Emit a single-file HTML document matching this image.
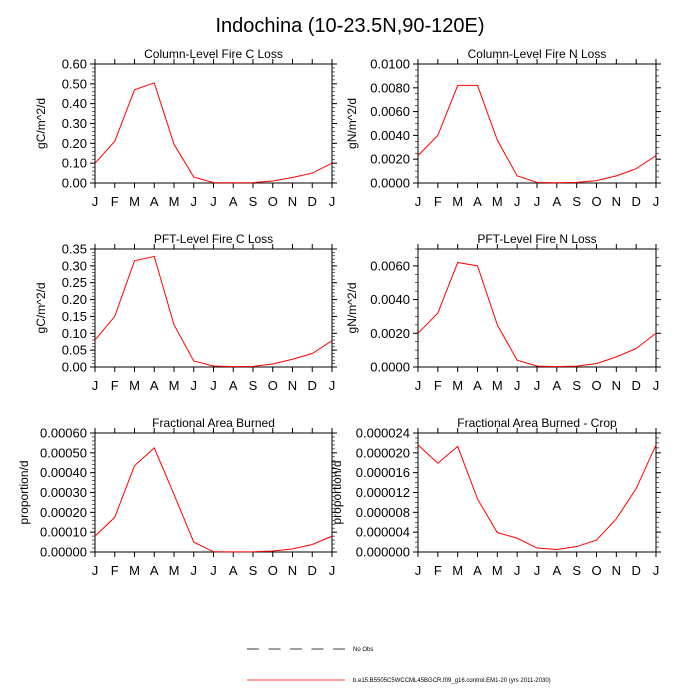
<!DOCTYPE html>
<html><head><meta charset="utf-8"><style>
html,body{margin:0;padding:0;background:#fff;}
svg{display:block;font-family:"Liberation Sans",sans-serif;}
</style></head><body>
<svg id="chart" width="700" height="700" viewBox="0 0 700 700">
<text x="350" y="32" text-anchor="middle" font-size="20">Indochina (10-23.5N,90-120E)</text>
<g id="panels"></g>
<g>
<line x1="247" y1="649" x2="345" y2="649" stroke="#000" stroke-width="0.8" stroke-dasharray="12,9.5"/>
<text x="353" y="651" font-size="6">No Obs</text>
<line x1="247" y1="680" x2="345" y2="680" stroke="#f00" stroke-width="0.8"/>
<text x="353" y="682" font-size="6">b.e15.B5505C5WCCML45BGCR.f09_g16.control.EM1-20 (yrs 2011-2030)</text>
</g>
</svg>
<script>
const months = ["J","F","M","A","M","J","J","A","S","O","N","D","J"];
const colCLoss = [0.10,0.21,0.47,0.505,0.195,0.03,0.002,0.001,0.002,0.01,0.028,0.05,0.10];
const colNLoss = [0.0023,0.0040,0.0082,0.0082,0.0036,0.0006,0.00005,0.00002,0.00005,0.0002,0.0006,0.0012,0.0023];
const pftCLoss = [0.08,0.15,0.315,0.328,0.125,0.018,0.003,0.001,0.002,0.009,0.023,0.04,0.078];
const pftNLoss = [0.0020,0.0032,0.0062,0.0060,0.0025,0.0004,0.00005,0.00002,0.00005,0.0002,0.0006,0.0011,0.0020];
const fracBurn = [0.00008,0.000175,0.000435,0.000525,0.00029,0.00005,0.000001,0.0000005,0.000001,0.000005,0.000015,0.000038,0.00008];
const fracCrop = [0.0000216,0.0000179,0.0000213,0.0000107,0.0000039,0.0000028,0.0000008,0.0000005,0.0000011,0.0000024,0.0000067,0.0000128,0.0000216];
const ticksCL = ["0.00","0.10","0.20","0.30","0.40","0.50","0.60"];
const ticksNL = ["0.0000","0.0020","0.0040","0.0060","0.0080","0.0100"];
const ticksPC = ["0.00","0.05","0.10","0.15","0.20","0.25","0.30","0.35"];
const ticksPN = ["0.0000","0.0020","0.0040","0.0060"];
const ticksFB = ["0.00000","0.00010","0.00020","0.00030","0.00040","0.00050","0.00060"];
const ticksFC = ["0.000000","0.000004","0.000008","0.000012","0.000016","0.000020","0.000024"];

const NS="http://www.w3.org/2000/svg";
const root=document.getElementById('panels');
function mk(tag,attrs,parent){const e=document.createElementNS(NS,tag);for(const k in attrs)e.setAttribute(k,attrs[k]);parent.appendChild(e);return e;}

const panels=[
 {name:"column-fire-c-loss",title:"Column-Level Fire C Loss",yl:"gC/m^2/d",data:colCLoss,ticks:ticksCL,ymax:0.6,minor:5,x0:95,x1:332,y0:64,y1:183,ylx:45},
 {name:"column-fire-n-loss",title:"Column-Level Fire N Loss",yl:"gN/m^2/d",data:colNLoss,ticks:ticksNL,ymax:0.01,minor:4,x0:418,x1:656,y0:64,y1:183,ylx:356},
 {name:"pft-fire-c-loss",title:"PFT-Level Fire C Loss",yl:"gC/m^2/d",data:pftCLoss,ticks:ticksPC,ymax:0.35,minor:5,x0:95,x1:332,y0:249,y1:367,ylx:45},
 {name:"pft-fire-n-loss",title:"PFT-Level Fire N Loss",yl:"gN/m^2/d",data:pftNLoss,ticks:ticksPN,ymax:0.007,minor:4,x0:418,x1:656,y0:249,y1:367,ylx:356},
 {name:"fractional-area-burned",title:"Fractional Area Burned",yl:"proportion/d",data:fracBurn,ticks:ticksFB,ymax:0.0006,minor:5,x0:95,x1:332,y0:433,y1:552,ylx:28},
 {name:"fractional-area-burned-crop",title:"Fractional Area Burned - Crop",yl:"proportion/d",data:fracCrop,ticks:ticksFC,ymax:0.000024,minor:4,x0:418,x1:656,y0:433,y1:552,ylx:341}
];

panels.forEach(p=>{
 const g=mk('g',{},root);
 
 
 const X=i=>p.x0+(p.x1-p.x0)*i/(months.length-1);
 const Y=v=>p.y1-(p.y1-p.y0)*v/p.ymax;
 const t=mk('text',{x:(p.x0+p.x1)/2,y:p.y0-6,'text-anchor':'middle','font-size':12},g);
 t.textContent=p.title;
 
 
 const yl=mk('text',{x:0,y:0,'text-anchor':'middle','font-size':12,transform:`translate(${p.ylx},${(p.y0+p.y1)/2}) rotate(-90)`},g);
 yl.textContent=p.yl;
 
 
 const step=parseFloat(p.ticks[1]);
 p.ticks.forEach((lab,k)=>{
  const v=parseFloat(lab);const y=Y(v);
  mk('line',{x1:p.x0-5,y1:y,x2:p.x0,y2:y,stroke:'#000','stroke-width':1},g);
  mk('line',{x1:p.x1,y1:y,x2:p.x1+5,y2:y,stroke:'#000','stroke-width':1},g);
  const tl=mk('text',{x:p.x0-8,y:y+4.5,'text-anchor':'end','font-size':13},g);
  tl.textContent=lab;
  
  
 });
 const ms=step/p.minor;
 for(let v=0;v<=p.ymax+1e-12;v+=ms){
  const y=Y(v);
  mk('line',{x1:p.x0-3,y1:y,x2:p.x0,y2:y,stroke:'#000','stroke-width':0.6},g);
  mk('line',{x1:p.x1,y1:y,x2:p.x1+3,y2:y,stroke:'#000','stroke-width':0.6},g);
 }
 months.forEach((m,i)=>{
  const x=X(i);
  mk('line',{x1:x,y1:p.y1,x2:x,y2:p.y1+5,stroke:'#000','stroke-width':1},g);
  mk('line',{x1:x,y1:p.y0-5,x2:x,y2:p.y0,stroke:'#000','stroke-width':1},g);
  const ml=mk('text',{x:x,y:p.y1+23,'text-anchor':'middle','font-size':13},g);
  ml.textContent=m;
  
  
 });
 const fr=mk('rect',{x:p.x0,y:p.y0,width:p.x1-p.x0,height:p.y1-p.y0,fill:'none',stroke:'#000','stroke-width':1},g);
 
 
 const pts=p.data.map((v,i)=>X(i).toFixed(2)+','+Y(v).toFixed(2)).join(' ');
 const ln=mk('polyline',{points:pts,fill:'none',stroke:'#f00','stroke-width':1},g);
 
 
});
</script>
</body></html>
